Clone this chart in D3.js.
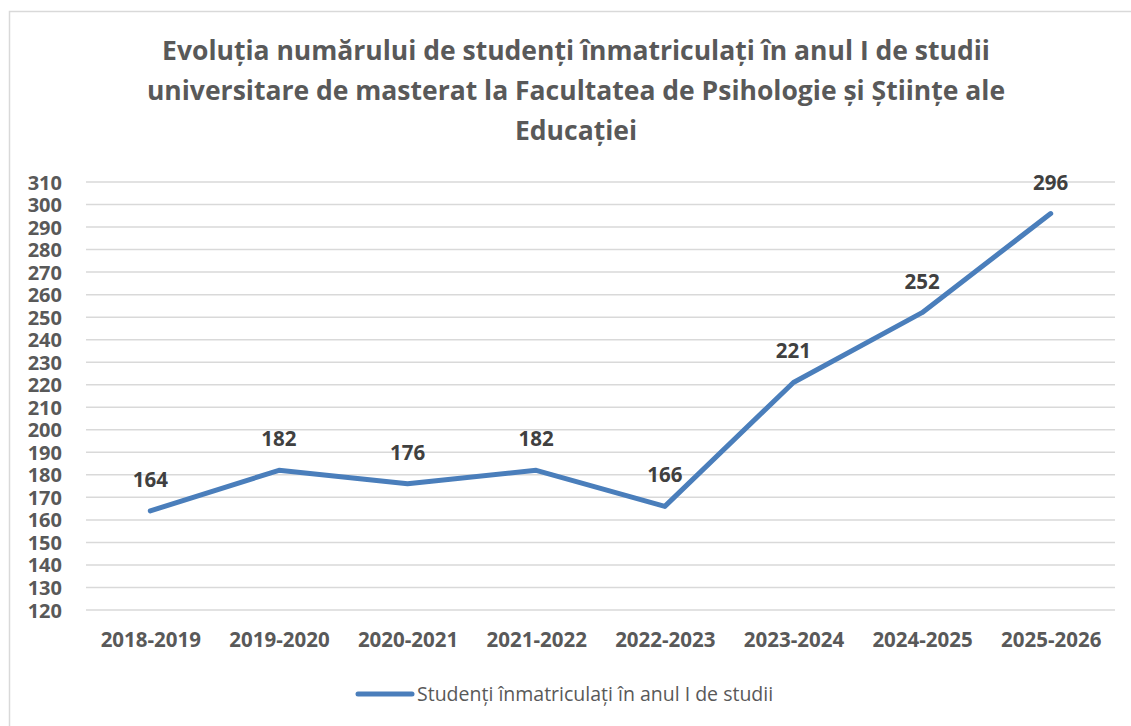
<!DOCTYPE html>
<html>
<head>
<meta charset="utf-8">
<script src="https://cdn.jsdelivr.net/npm/d3@7"></script>
<style>
  html, body { margin: 0; padding: 0; background: #fff; }
  svg { display: block; font-family: 'Open Sans', sans-serif; }
</style>
</head>
<body>
<div id="chart"></div>
<script>
const years = ['2018-2019', '2019-2020', '2020-2021', '2021-2022', '2022-2023', '2023-2024', '2024-2025', '2025-2026'];
const students = [164, 182, 176, 182, 166, 221, 252, 296];
const yTicks = d3.range(120, 311, 10);
const titleLines = [
  'Evoluția numărului de studenți înmatriculați în anul I de studii',
  'universitare de masterat la Facultatea de Psihologie și Științe ale',
  'Educației'
];
const seriesName = 'Studenți înmatriculați în anul I de studii';

const width = 1131, height = 726;
const margin = { top: 182, right: 16, bottom: 116, left: 86 };
const lineColor = '#4a7ebb';
const textColor = '#595959';

const svg = d3.select('#chart')
  .append('svg')
  .attr('width', width)
  .attr('height', height);

// chart frame
svg.append('rect')
  .attr('x', 9.5)
  .attr('y', 11.5)
  .attr('width', width + 20)
  .attr('height', height + 20)
  .attr('fill', '#fff')
  .attr('stroke', '#d9d9d9')
  .attr('stroke-width', 1.5);

const x = d3.scalePoint()
  .domain(years)
  .range([margin.left, width - margin.right])
  .padding(0.5);

const y = d3.scaleLinear()
  .domain([120, 310])
  .range([height - margin.bottom, margin.top]);

// title
svg.append('g')
  .selectAll('text')
  .data(titleLines)
  .join('text')
  .attr('x', 576)
  .attr('y', (d, i) => 60 + i * 40)
  .attr('text-anchor', 'middle')
  .attr('font-size', 26.5)
  .attr('font-weight', 700)
  .attr('fill', textColor)
  .text(d => d);

// gridlines
svg.append('g')
  .selectAll('line')
  .data(yTicks)
  .join('line')
  .attr('x1', margin.left)
  .attr('x2', width - margin.right)
  .attr('y1', d => y(d))
  .attr('y2', d => y(d))
  .attr('stroke', '#d9d9d9')
  .attr('stroke-width', 1.5);

// y axis
const yAxis = svg.append('g')
  .attr('transform', `translate(${margin.left - 24},0)`)
  .call(d3.axisLeft(y).tickValues(yTicks).tickSize(0).tickPadding(0));
yAxis.select('.domain').remove();
yAxis.selectAll('text')
  .attr('font-family', 'Open Sans, sans-serif')
  .attr('font-size', 20)
  .attr('font-weight', 700)
  .attr('fill', textColor)
  .attr('dy', '0.35em');

// x axis
const xAxis = svg.append('g')
  .attr('transform', `translate(0,${height - margin.bottom})`)
  .call(d3.axisBottom(x).tickSize(0).tickPadding(22));
xAxis.select('.domain').remove();
xAxis.selectAll('text')
  .attr('font-family', 'Open Sans, sans-serif')
  .attr('font-size', 20.5)
  .attr('font-weight', 700)
  .attr('fill', textColor);

// line
const line = d3.line()
  .x((d, i) => x(years[i]))
  .y(d => y(d));

svg.append('path')
  .datum(students)
  .attr('d', line)
  .attr('fill', 'none')
  .attr('stroke', lineColor)
  .attr('stroke-width', 5)
  .attr('stroke-linejoin', 'round')
  .attr('stroke-linecap', 'round');

// data labels
svg.append('g')
  .selectAll('text')
  .data(students)
  .join('text')
  .attr('x', (d, i) => x(years[i]))
  .attr('y', d => y(d) - 24)
  .attr('text-anchor', 'middle')
  .attr('font-size', 20.5)
  .attr('font-weight', 700)
  .attr('fill', '#404040')
  .text(d => d);

// legend
const legend = svg.append('g')
  .attr('transform', 'translate(358,694)');
legend.append('line')
  .attr('x1', 0)
  .attr('x2', 54)
  .attr('stroke', lineColor)
  .attr('stroke-width', 5)
  .attr('stroke-linecap', 'round');
legend.append('text')
  .attr('x', 59)
  .attr('dy', '0.35em')
  .attr('font-size', 19.5)
  .attr('fill', textColor)
  .text(seriesName);
</script>
</body>
</html>
